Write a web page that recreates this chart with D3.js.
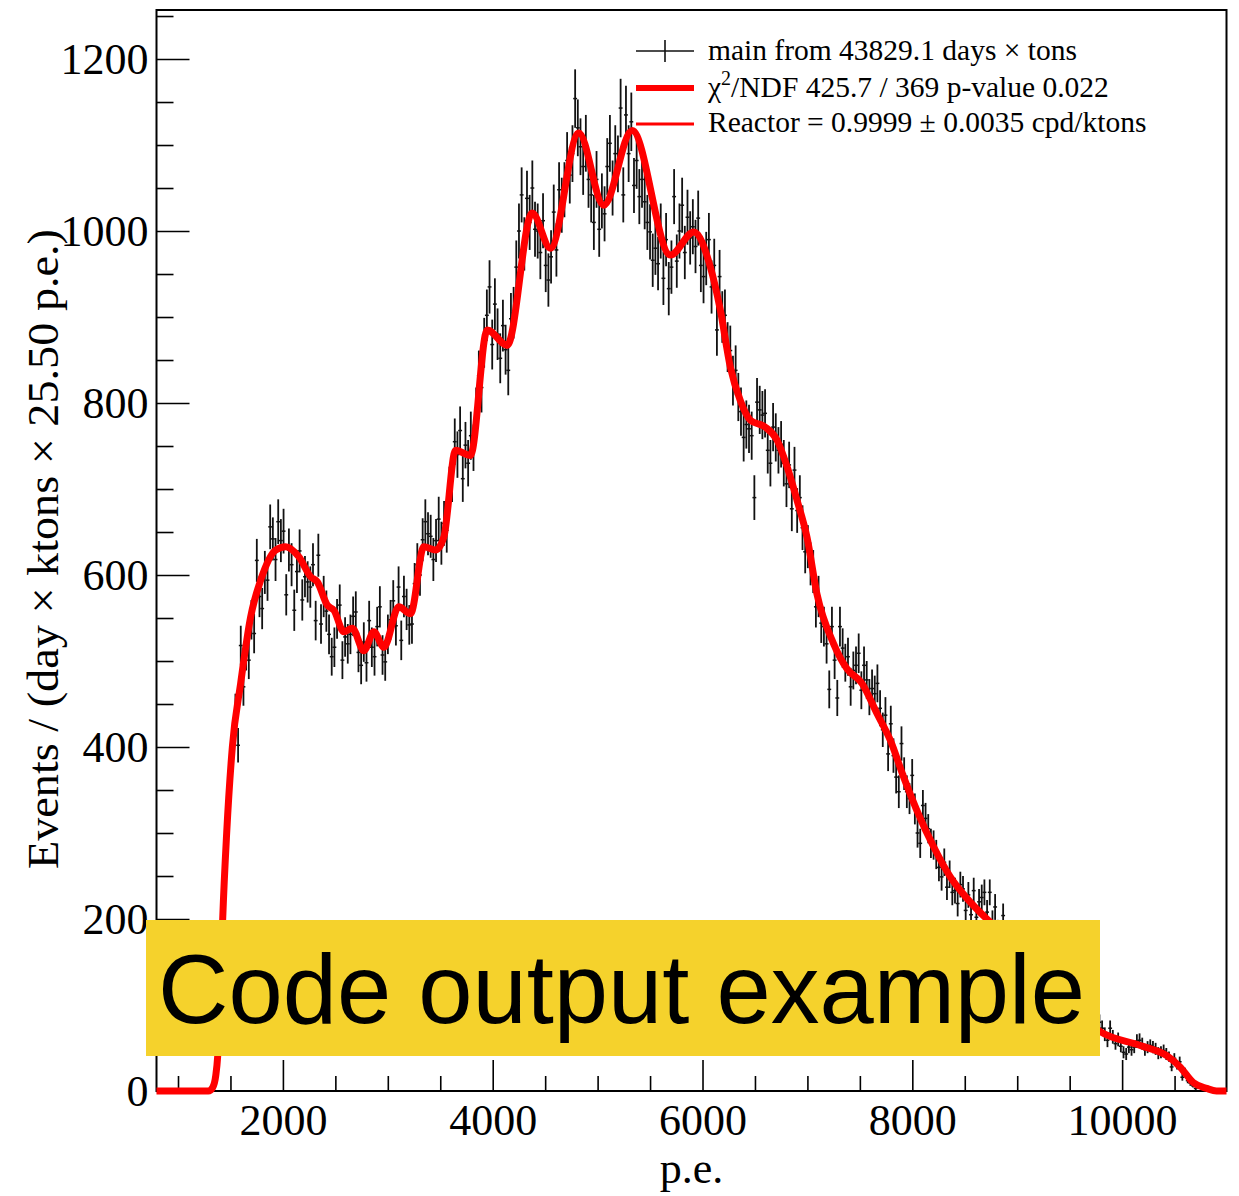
<!DOCTYPE html>
<html>
<head>
<meta charset="utf-8">
<script src="https://cdn.jsdelivr.net/npm/d3@7"></script>
<style>
  html, body { margin: 0; padding: 0; background: #ffffff; }
  svg { display: block; }
</style>
</head>
<body>
<svg id="chart" width="1239" height="1196"></svg>
<script>
// ---- Histogram definition (p.e.) ----
const binLow = 795;
const binWidth = 25.5;
const firstBin = 22;

// Bin contents, Events / (day x ktons x 25.50 p.e.), starting at firstBin
const counts = [
  55,118,178,262,305,372,395,441,402,518,
  470,512,501,548,532,617,575,561,603,594,
  656,642,618,662,640,651,577,629,612,559,
  604,628,571,598,592,586,612,547,623,543,
  575,558,531,505,516,549,565,501,528,520,
  531,552,557,510,495,522,498,547,516,505,
  540,563,507,499,531,548,570,541,586,524,
  575,560,542,543,590,612,600,641,662,648,
  645,618,640,665,637,660,652,700,712,755,
  740,768,712,751,730,762,748,790,832,818,
  870,902,935,868,915,880,852,890,862,838,
  898,905,958,1000,1042,985,1038,1010,1050,1002,
  1000,975,1012,960,943,970,1022,978,1048,1030,
  1048,1082,1065,1090,1154,1120,1098,1075,1102,1060,
  1042,1010,1060,1002,1035,1020,1075,1102,1050,1090,
  1078,1143,1042,1135,1090,1127,1053,1082,1040,1060,
  1034,1010,999,966,980,962,1000,945,990,933,
  958,1040,965,1000,1030,975,1016,992,1005,982,
  1015,960,947,968,990,935,960,885,947,900,
  902,865,861,826,838,807,790,760,775,770,
  762,690,801,792,786,788,745,730,772,760,
  745,752,730,706,728,677,722,675,690,655,
  627,633,613,604,563,575,544,540,520,467,
  540,501,457,540,515,498,505,470,489,495,
  509,466,495,478,458,468,462,474,445,420,
  437,392,427,390,365,348,404,369,348,340,
  367,328,300,288,332,317,305,288,286,275,
  260,249,266,237,252,231,233,218,240,235,
  210,228,205,233,202,220,225,231,208,231,
  196,214,185,178,204,180,170,175,162,168,
  158,170,149,155,140,152,136,145,130,138,
  126,135,120,128,112,118,104,112,98,106,
  92,99,88,84,90,78,83,72,77,70,
  80,73,66,59,73,63,55,60,52,45,
  43,51,48,51,58,59,55,48,51,53,
  51,49,44,45,47,43,40,28,38,30,
  34,16,22,12,9,6,3
];

// Statistical uncertainty of each bin
const errors = [
  7,11,13,16,17,19,20,21,20,23,
  22,23,22,23,23,25,24,24,25,24,
  26,25,25,26,25,26,24,25,25,24,
  25,25,24,24,24,24,25,23,25,23,
  24,24,23,22,23,23,24,22,23,23,
  23,23,24,23,22,23,22,23,23,22,
  23,24,23,22,23,23,24,23,24,23,
  24,24,23,23,24,25,24,25,26,25,
  25,25,25,26,25,26,26,26,27,27,
  27,28,27,27,27,28,27,28,29,29,
  29,30,31,29,30,30,29,30,29,29,
  30,30,31,32,32,31,32,32,32,32,
  32,31,32,31,31,31,32,31,32,32,
  32,33,33,33,34,33,33,33,33,33,
  32,32,33,32,32,32,33,33,32,33,
  33,34,32,34,33,34,32,33,32,33,
  32,32,32,31,31,31,32,31,31,31,
  31,32,31,32,32,31,32,31,32,31,
  32,31,31,31,31,31,31,30,31,30,
  30,29,29,29,29,28,28,28,28,28,
  28,26,28,28,28,28,27,27,28,28,
  27,27,27,27,27,26,27,26,26,26,
  25,25,25,25,24,24,23,23,23,22,
  23,22,21,23,23,22,22,22,22,22,
  23,22,22,22,21,22,21,22,21,20,
  21,20,21,20,19,19,20,19,19,18,
  19,18,17,17,18,18,17,17,17,17,
  16,16,16,15,16,15,15,15,15,15,
  14,15,14,15,14,15,15,15,14,15,
  14,15,14,13,14,13,13,13,13,13,
  13,13,12,12,12,12,12,12,11,12,
  11,12,11,11,11,11,10,11,10,10,
  10,10,9,9,9,9,9,8,9,8,
  9,9,8,8,9,8,7,8,7,7,
  7,7,7,7,8,8,7,7,7,7,
  7,7,7,7,7,7,6,5,6,5,
  6,4,5,3,3,2,2
];

// Fitted spectrum (p.e., events)
const fitPE = [795,1290,1330,1360,1378,1400,1426,1464,1518,1597,1692,1788,1931,2026,2153,2264,2328,2423,2486,2581,2661,2772,2867,2962,3105,3217,3344,3455,3534,3646,3788,3948,4138,4376,4551,4820,5058,5329,5694,5916,6075,6170,6265,6360,6456,6598,6710,6806,6901,6996,7091,7250,7377,7520,7663,7790,7917,8044,8203,8362,8521,8711,9000,9250,9500,9792,10173,10426,10552,10677,10807,10900,10995];
const fitValue = [0,0,4,18,40,100,200,300,400,474,551,594,629,633,621,598,592,565,559,534,538,512,534,516,563,555,633,629,644,745,739,885,867,1021,980,1114,1030,1117,972,999,958,908,842,803,780,772,757,726,687,644,578,520,491,474,439,408,365,326,284,249,224,200,170,135,100,69,53,41,28,10,3,0,0];

// Axis ticks
const xDomain = [795, 10995];
const yDomain = [0, 1257];
const xMajorTicks = [2000, 4000, 6000, 8000, 10000];
const xMinorTicks = [1000, 1500, 2500, 3000, 3500, 4500, 5000, 5500, 6500, 7000, 7500, 8500, 9000, 9500, 10500];
const yMajorTicks = [0, 200, 400, 600, 800, 1000, 1200];
const yMinorTicks = [50,100,150,250,300,350,450,500,550,650,700,750,850,900,950,1050,1100,1150,1250];

// Texts
const xTitle = "p.e.";
const yTitle = "Events / (day \u00d7 ktons \u00d7 25.50 p.e.)";
const legendData = "main from 43829.1 days \u00d7 tons";
const legendFitPre = "\u03c7";
const legendFitSup = "2";
const legendFitPost = "/NDF 425.7 / 369 p-value 0.022";
const legendReactor = "Reactor = 0.9999 \u00b1 0.0035 cpd/ktons";
const bannerText = "Code output example";

// ---- Drawing ----
const svg = d3.select("#chart");
const frame = { left: 156.5, right: 1226.5, top: 10, bottom: 1091 };
const serif = "'Liberation Serif', 'Times New Roman', serif";

const x = d3.scaleLinear().domain(xDomain).range([frame.left, frame.right]);
const y = d3.scaleLinear().domain(yDomain).range([frame.bottom, frame.top]);

// Axes (ticks point into the frame)
const gy = svg.append("g").attr("transform", `translate(${frame.left},0)`);
gy.call(d3.axisLeft(y).tickValues(yMajorTicks).tickSize(-33).tickPadding(8).tickFormat(d3.format("d")));
const gyMinor = svg.append("g").attr("transform", `translate(${frame.left},0)`);
gyMinor.call(d3.axisLeft(y).tickValues(yMinorTicks).tickSize(-17).tickFormat(""));

const gx = svg.append("g").attr("transform", `translate(0,${frame.bottom})`);
gx.call(d3.axisBottom(x).tickValues(xMajorTicks).tickSize(-31).tickPadding(13).tickFormat(d3.format("d")));
const gxMinor = svg.append("g").attr("transform", `translate(0,${frame.bottom})`);
gxMinor.call(d3.axisBottom(x).tickValues(xMinorTicks).tickSize(-15).tickFormat(""));

[gy, gyMinor, gx, gxMinor].forEach(g => {
  g.select(".domain").remove();
  g.selectAll(".tick line").attr("stroke", "#000").attr("stroke-width", 1.6);
  g.selectAll(".tick text").attr("fill", "#000").style("font-family", serif).style("font-size", "44px");
});

// Frame
svg.append("rect")
  .attr("x", frame.left).attr("y", frame.top)
  .attr("width", frame.right - frame.left).attr("height", frame.bottom - frame.top)
  .attr("fill", "none").attr("stroke", "#000").attr("stroke-width", 2);

// Data points with error bars
const points = counts.map((v, k) => {
  const center = binLow + binWidth * (firstBin + k + 0.5);
  return { pe: center, v: v, e: errors[k] };
});
const gData = svg.append("g");
gData.selectAll("line.err").data(points).join("line")
  .attr("class", "err")
  .attr("x1", d => x(d.pe)).attr("x2", d => x(d.pe))
  .attr("y1", d => y(d.v - d.e)).attr("y2", d => y(d.v + d.e))
  .attr("stroke", "#111").attr("stroke-width", 1.8);
gData.selectAll("line.bin").data(points).join("line")
  .attr("class", "bin")
  .attr("x1", d => x(d.pe - binWidth / 2) - 0.6).attr("x2", d => x(d.pe + binWidth / 2) + 0.6)
  .attr("y1", d => y(d.v)).attr("y2", d => y(d.v))
  .attr("stroke", "#111").attr("stroke-width", 1.5);

// Fit curve
const fitPts = fitPE.map((p, i) => [p, fitValue[i]]);
svg.append("path")
  .datum(fitPts)
  .attr("d", d3.line().x(d => x(d[0])).y(d => y(d[1])).curve(d3.curveMonotoneX))
  .attr("fill", "none").attr("stroke", "#ff0000").attr("stroke-width", 7)
  .attr("stroke-linejoin", "round");

// Axis titles
svg.append("text")
  .attr("x", (frame.left + frame.right) / 2).attr("y", 1183)
  .attr("text-anchor", "middle")
  .style("font-family", serif).style("font-size", "44px")
  .text(xTitle);

svg.append("text")
  .attr("transform", `translate(58,549) rotate(-90)`)
  .attr("text-anchor", "middle")
  .attr("textLength", 640).attr("lengthAdjust", "spacingAndGlyphs")
  .style("font-family", serif).style("font-size", "45px")
  .text(yTitle);

// Legend
const lg = svg.append("g");
const symX1 = 636, symX2 = 694, textX = 708;
const rowY = [51, 88, 124];
lg.append("line").attr("x1", symX1).attr("x2", symX2).attr("y1", rowY[0]).attr("y2", rowY[0])
  .attr("stroke", "#111").attr("stroke-width", 1.6);
lg.append("line").attr("x1", (symX1 + symX2) / 2).attr("x2", (symX1 + symX2) / 2)
  .attr("y1", rowY[0] - 11).attr("y2", rowY[0] + 11)
  .attr("stroke", "#111").attr("stroke-width", 1.6);
lg.append("line").attr("x1", symX1).attr("x2", symX2).attr("y1", rowY[1]).attr("y2", rowY[1])
  .attr("stroke", "#ff0000").attr("stroke-width", 6);
lg.append("line").attr("x1", symX1).attr("x2", symX2).attr("y1", rowY[2]).attr("y2", rowY[2])
  .attr("stroke", "#ff0000").attr("stroke-width", 3);

const legendFont = "29.5px";
lg.append("text").attr("x", textX).attr("y", rowY[0] + 9)
  .style("font-family", serif).style("font-size", legendFont).text(legendData);
const t2 = lg.append("text").attr("x", textX).attr("y", rowY[1] + 9)
  .style("font-family", serif).style("font-size", legendFont);
t2.append("tspan").text(legendFitPre);
t2.append("tspan").attr("dy", -12).style("font-size", "20px").text(legendFitSup);
t2.append("tspan").attr("dy", 12).text(legendFitPost);
lg.append("text").attr("x", textX).attr("y", rowY[2] + 8)
  .style("font-family", serif).style("font-size", legendFont).text(legendReactor);

// Banner
svg.append("rect")
  .attr("x", 146).attr("y", 920).attr("width", 954).attr("height", 136)
  .attr("fill", "#f5d22c");
svg.append("text")
  .attr("x", 158).attr("y", 1023)
  .attr("textLength", 927).attr("lengthAdjust", "spacingAndGlyphs")
  .style("font-family", "'Liberation Sans', Arial, sans-serif").style("font-size", "98px")
  .attr("fill", "#000")
  .text(bannerText);
</script>
</body>
</html>
